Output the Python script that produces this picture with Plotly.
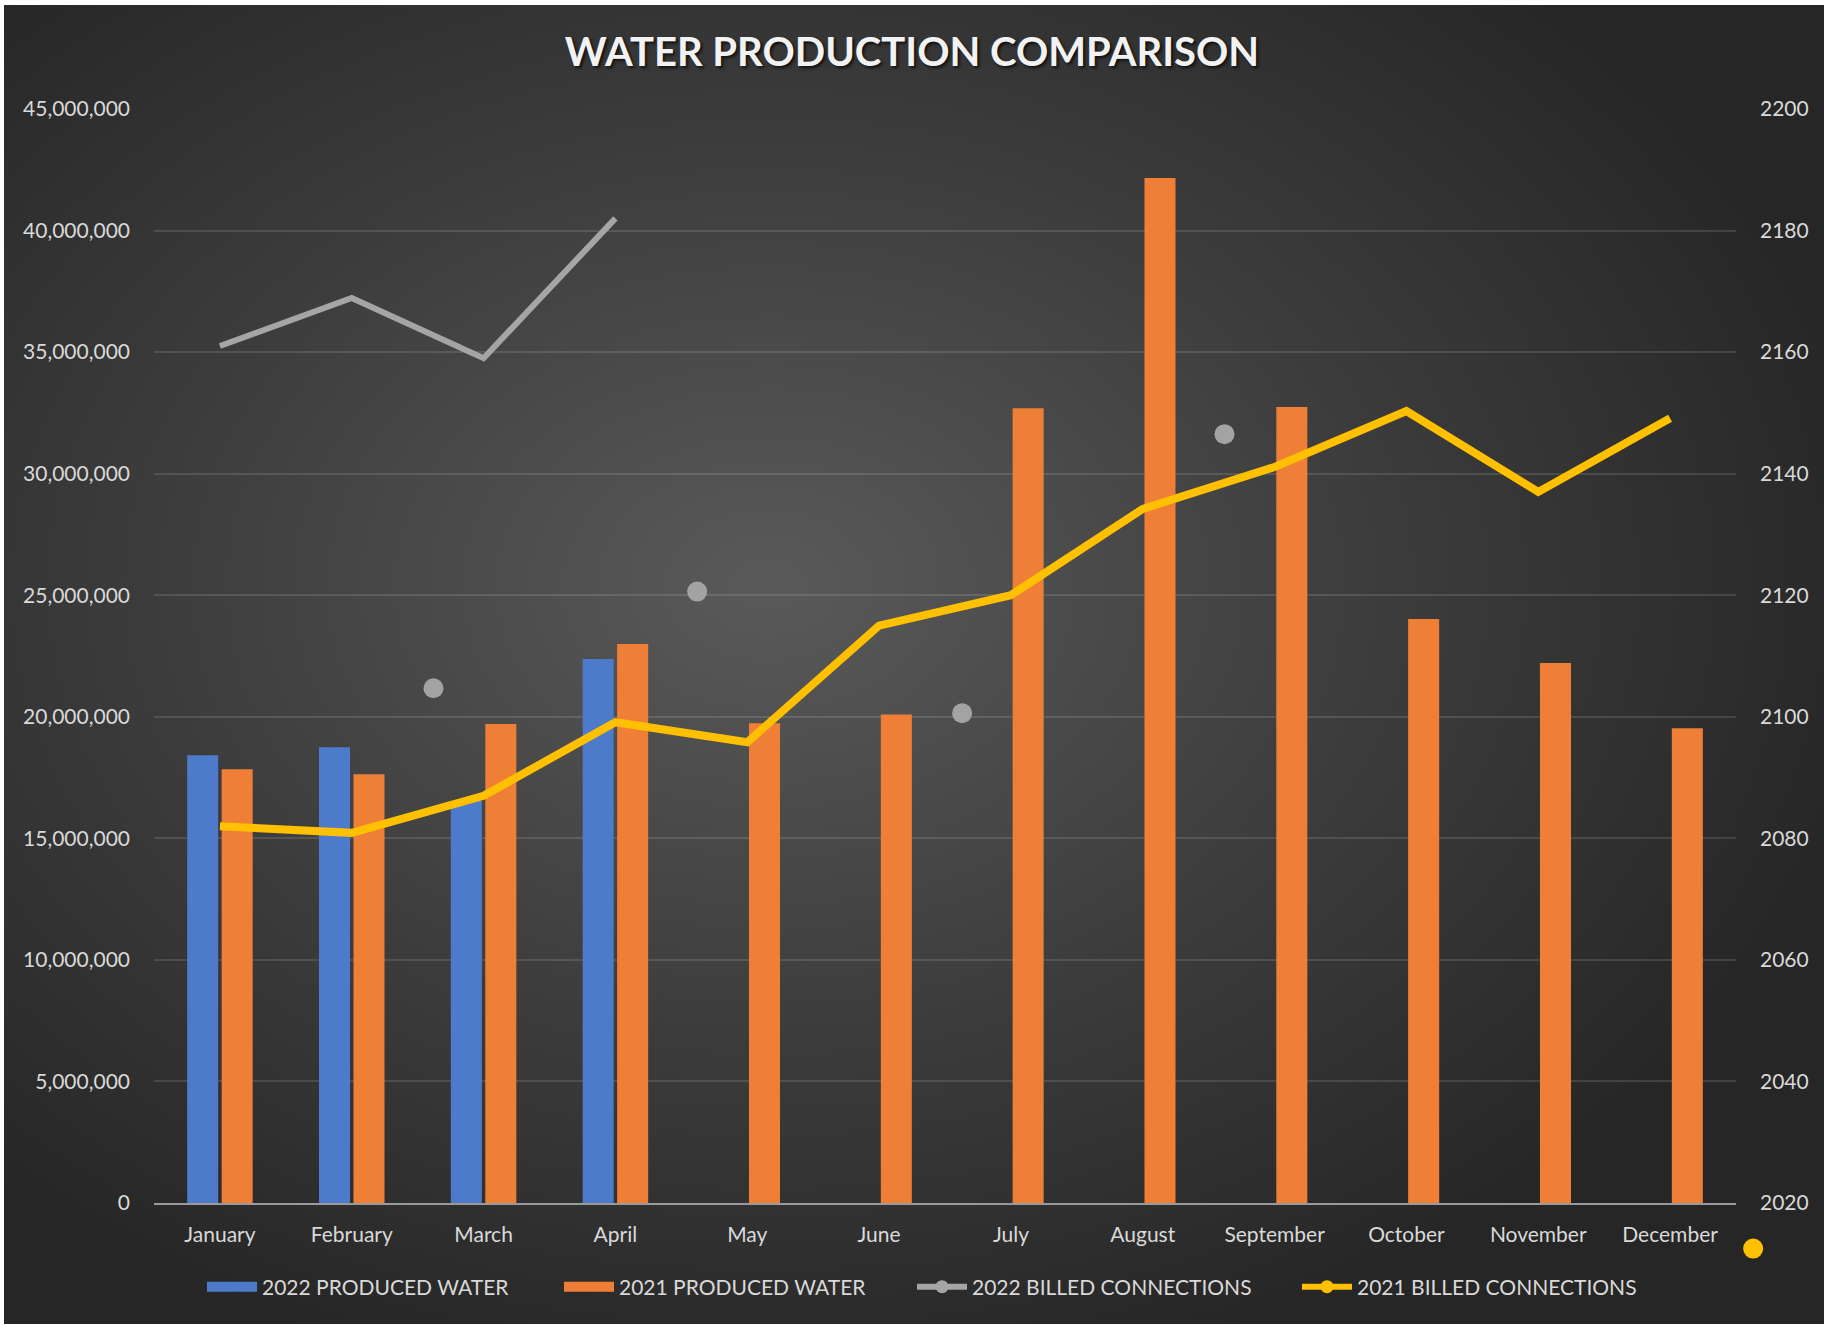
import base64
import plotly.graph_objects as go

months = ["January", "February", "March", "April", "May", "June", "July",
          "August", "September", "October", "November", "December"]
produced_2022 = [18.42e6, 18.75e6, 16.54e6, 22.38e6]
produced_2021 = [17.84e6, 17.64e6, 19.70e6, 22.99e6, 19.73e6, 20.09e6,
                 32.69e6, 42.16e6, 32.74e6, 24.02e6, 22.21e6, 19.53e6]
billed_2022 = [2161.0, 2168.9, 2159.0, 2182.0]
billed_2021 = [2082.0, 2080.9, 2087.0, 2099.1, 2095.8, 2115.0,
               2120.0, 2134.2, 2141.1, 2150.3, 2137.0, 2149.1]
# stray markers as they appear in the source chart
stray_gray_x = [1.62, 3.62, 5.63, 7.62]
stray_gray_y = [2104.7, 2120.6, 2100.6, 2146.5]
stray_yellow_x = [11.63]
stray_yellow_y = [2012.5]

x_idx = list(range(len(months)))
font = "Lato, 'Open Sans', sans-serif"
tick_color = "#d9d9d9"

BLUE = "#4d7acb"
ORANGE = "#ef7f36"
GRAY = "#a5a5a5"
YELLOW = "#ffc000"

# ---- geometry (pixels) ----
W, H = 1824, 1325
L, R, T, B = 154, 24, 109, 60          # outer plotting area (includes overflow zone)
pw, ph = W - L - R, H - T - B
main_right, main_bottom = 1736, 1203   # main plot area edges


def px_x(p):
    return (p - L) / pw


def px_y(p):
    return (H - B - p) / ph


x_dom = [0, px_x(main_right)]
y_dom = [px_y(main_bottom), 1]
XR = [-0.5, 11.5]
Y2R = [2020, 2200]
# extended ranges of the hidden overlay axes with identical scale
ux = (XR[1] - XR[0]) / (main_right - L)
XR_ext = [XR[0], XR[0] + pw * ux]
uy = (Y2R[1] - Y2R[0]) / (main_bottom - T)
Y3R_ext = [Y2R[0] - (H - B - main_bottom) * uy, Y2R[1]]

fig = go.Figure()
fig.add_trace(go.Bar(x=x_idx[:len(produced_2022)], y=produced_2022, name="2022 PRODUCED WATER",
                     marker=dict(color=BLUE, line=dict(width=0)), showlegend=False,
                     legendgroup="p22"))
fig.add_trace(go.Bar(x=x_idx, y=produced_2021, name="2021 PRODUCED WATER",
                     marker=dict(color=ORANGE, line=dict(width=0)), showlegend=False,
                     legendgroup="p21"))
fig.add_trace(go.Scatter(x=x_idx[:len(billed_2022)], y=billed_2022, yaxis="y2", mode="lines",
                         line=dict(color=GRAY, width=6), showlegend=False,
                         legendgroup="b22"))
fig.add_trace(go.Scatter(x=x_idx, y=billed_2021, yaxis="y2", mode="lines",
                         line=dict(color=YELLOW, width=8), showlegend=False,
                         legendgroup="b21"))
fig.add_trace(go.Scatter(x=stray_gray_x, y=stray_gray_y, yaxis="y2", mode="markers",
                         marker=dict(color="#a3a3a3", size=20, line=dict(width=0)),
                         showlegend=False, legendgroup="b22"))
fig.add_trace(go.Scatter(x=stray_yellow_x, y=stray_yellow_y, xaxis="x2", yaxis="y3",
                         mode="markers",
                         marker=dict(color=YELLOW, size=20, line=dict(width=0)),
                         showlegend=False, legendgroup="b21"))
# legend entries
fig.add_trace(go.Scatter(x=[None], y=[None], mode="lines", name="2022 PRODUCED WATER",
                         legendgroup="p22", line=dict(color=BLUE, width=16), legend="legend"))
fig.add_trace(go.Scatter(x=[None], y=[None], mode="lines", name="2021 PRODUCED WATER",
                         legendgroup="p21", line=dict(color=ORANGE, width=16), legend="legend"))
fig.add_trace(go.Scatter(x=[None], y=[None], yaxis="y2", mode="lines+markers",
                         name="2022 BILLED CONNECTIONS", legendgroup="b22", legend="legend2",
                         line=dict(color=GRAY, width=6), marker=dict(color=GRAY, size=13)))
fig.add_trace(go.Scatter(x=[None], y=[None], yaxis="y2", mode="lines+markers",
                         name="2021 BILLED CONNECTIONS", legendgroup="b21", legend="legend2",
                         line=dict(color=YELLOW, width=6), marker=dict(color=YELLOW, size=13)))

svg = ("<svg xmlns='http://www.w3.org/2000/svg' width='1820' height='1320' "
       "viewBox='0 0 1820 1320' preserveAspectRatio='none'>"
       "<defs><radialGradient id='g' cx='0.42' cy='0.44' r='0.62'>"
       "<stop offset='0' stop-color='#5a5a5a'/>"
       "<stop offset='0.55' stop-color='#3c3c3c'/>"
       "<stop offset='1' stop-color='#262626'/>"
       "</radialGradient></defs>"
       "<rect width='1820' height='1320' fill='url(#g)'/></svg>")
uri = "data:image/svg+xml;base64," + base64.b64encode(svg.encode()).decode()

x0, x1 = px_x(4), px_x(W)
ytop, ybot = px_y(5), px_y(1324)

legend_common = dict(orientation="h", xanchor="left", y=px_y(1287), yanchor="middle",
                     bgcolor="rgba(0,0,0,0)", font=dict(size=21, color=tick_color),
                     itemwidth=50, entrywidthmode="pixels", traceorder="normal")

fig.update_layout(
    width=W, height=H,
    margin=dict(l=L, r=R, t=T, b=B, autoexpand=False),
    paper_bgcolor="white",
    plot_bgcolor="rgba(0,0,0,0)",
    font=dict(family=font, color=tick_color, size=21),
    images=[dict(source=uri, xref="paper", yref="paper", x=x0, y=ytop,
                 sizex=x1 - x0, sizey=ytop - ybot, sizing="stretch",
                 xanchor="left", yanchor="top", layer="below")],
    title=dict(text="<b>WATER PRODUCTION COMPARISON</b>", x=0.5, xref="container",
               xanchor="center", y=1 - 52 / H, yanchor="middle",
               font=dict(family=font, size=40, color="#f2f2f2",
                         shadow="2px 2px 3px rgba(0,0,0,0.7)")),
    barmode="group", bargap=0.477, bargroupgap=0.1,
    xaxis=dict(domain=x_dom, range=XR, tickvals=x_idx, ticktext=months,
               showgrid=False, zeroline=False, showline=True, anchor="y",
               linecolor="#9a9a9a", linewidth=2, ticks="", ticklabelstandoff=12,
               tickfont=dict(size=21, color=tick_color)),
    yaxis=dict(domain=y_dom, range=[0, 45e6], dtick=5e6, tickformat=",", showgrid=True,
               anchor="x",
               gridcolor="rgba(255,255,255,0.12)", gridwidth=1.5, zeroline=False,
               ticks="", ticklabelstandoff=23,
               tickfont=dict(size=21, color=tick_color)),
    yaxis2=dict(range=Y2R, dtick=20, overlaying="y", side="right", anchor="x",
                showgrid=False, zeroline=False, ticks="", ticklabelstandoff=23,
                tickfont=dict(size=21, color=tick_color)),
    xaxis2=dict(domain=[0, 1], range=XR_ext, anchor="y3", visible=False),
    yaxis3=dict(domain=[0, 1], range=Y3R_ext, anchor="x2", visible=False),
    legend=dict(x=px_x(202), entrywidth=292, **legend_common),
    legend2=dict(x=px_x(912), entrywidth=320, **legend_common),
)

fig.write_html("out.html", config={"displayModeBar": False},
               post_script="document.body.style.margin='0';")
